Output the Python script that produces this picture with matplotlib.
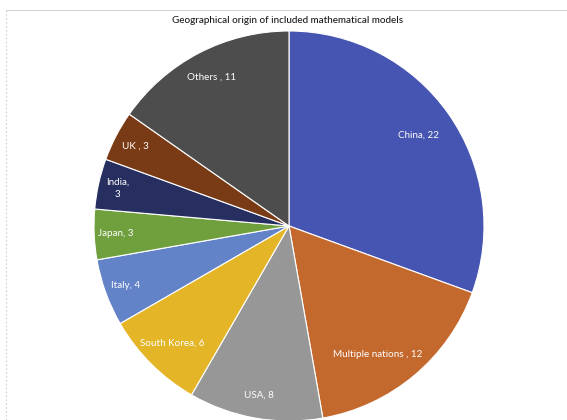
import matplotlib.pyplot as plt
from matplotlib.lines import Line2D
import numpy as np

# data
countries = ['China', 'Multiple nations ', 'USA', 'South Korea', 'Italy',
             'Japan', 'India,\n', 'UK ', 'Others ']
counts = [22, 12, 8, 6, 4, 3, 3, 3, 11]
colors = ['#4555B1', '#C4692E', '#979797', '#E3B527', '#6383C8',
          '#6FA03D', '#262F60', '#793A16', '#4D4D4D']
# label radius (fraction of pie radius) and angle shift (deg) per slice
label_r = [0.81, 0.80, 0.88, 0.85, 0.89, 0.89, 0.90, 0.89, 0.86]
label_shift = [0, -5.5, 0, 0, 0, 0, 0, 0, 0]

plt.rcParams['font.family'] = ['Lato', 'DejaVu Sans']

fig = plt.figure(figsize=(5.67, 4.2), dpi=100)
ax = fig.add_axes([0, 0, 1, 1])

cx, cy, R = 289, 194, 195
wedges, _ = ax.pie(counts, colors=colors, startangle=90, counterclock=False,
                   center=(cx, cy), radius=R,
                   wedgeprops=dict(edgecolor='white', linewidth=0.8))
ax.set_xlim(0, 567)
ax.set_ylim(0, 420)
ax.set_aspect('auto')
ax.axis('off')

for w, name, n, lr, sh in zip(wedges, countries, counts, label_r, label_shift):
    ang = np.deg2rad((w.theta1 + w.theta2) / 2 + sh)
    x = cx + lr * R * np.cos(ang)
    y = cy + lr * R * np.sin(ang)
    sep = '' if name.endswith('\n') else ', '
    ax.text(x, y, f'{name}{sep}{n}', color='white', fontsize=7.1,
            ha='center', va='center', linespacing=1.5)

fig.text(0.508, 0.952, 'Geographical origin of included mathematical models',
         ha='center', va='center', fontsize=7.1, color='#1A1A1A', weight='medium')

# faint sheet frame lines
fig.add_artist(Line2D([6 / 567, 1], [1 - 9.5 / 420] * 2, transform=fig.transFigure,
                      color='#D6D6D6', lw=0.8))
fig.add_artist(Line2D([6 / 567] * 2, [0, 1 - 9.5 / 420], transform=fig.transFigure,
                      color='#D0D0D0', lw=0.8, ls=(0, (1.5, 2))))

fig.savefig('out.png', dpi=100)
